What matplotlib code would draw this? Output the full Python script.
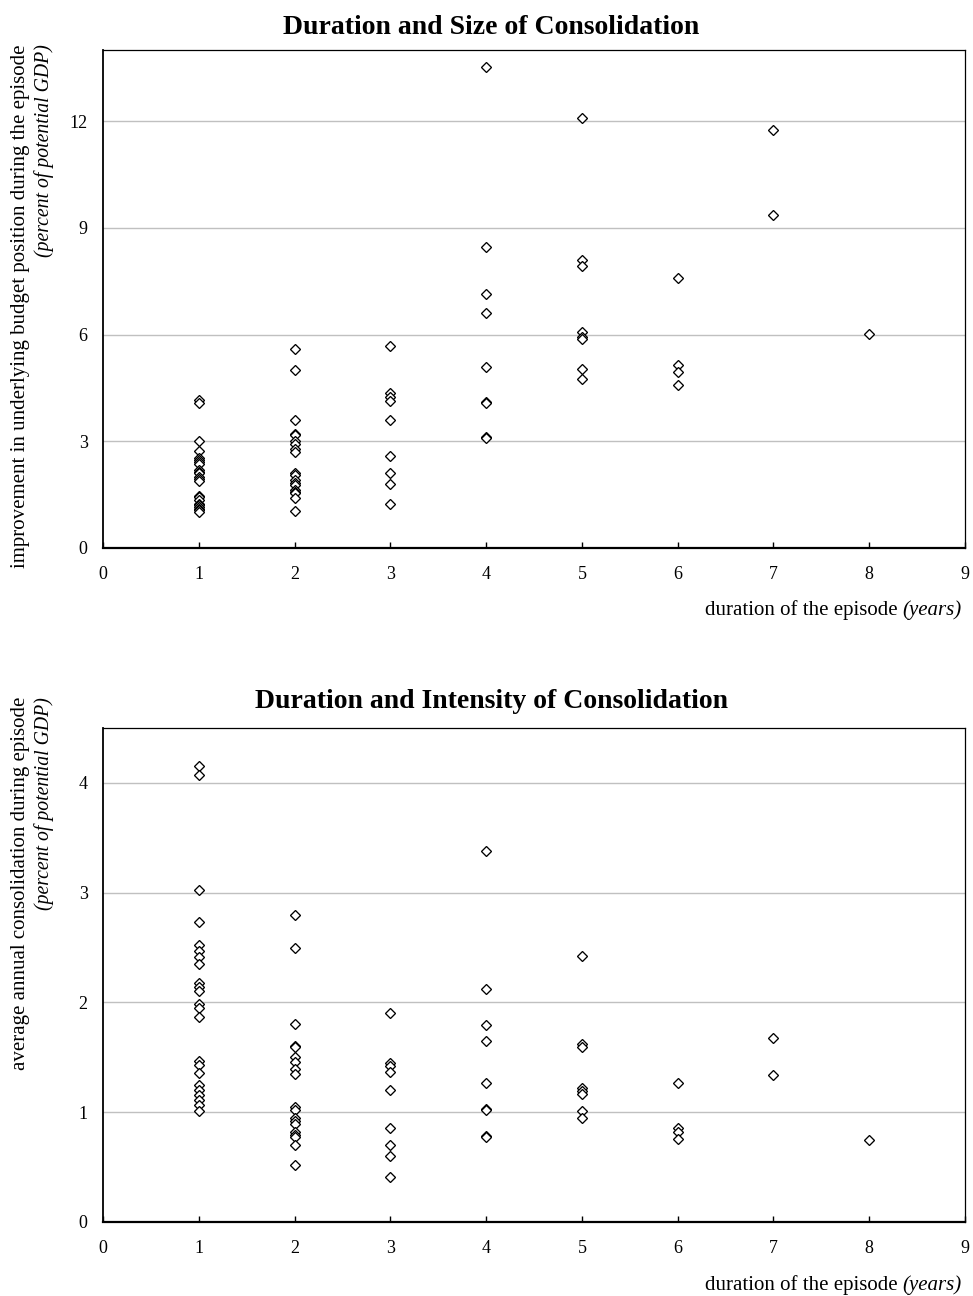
import matplotlib
matplotlib.use("Agg")
import matplotlib.pyplot as plt

plt.rcParams["font.family"] = ["Liberation Serif", "DejaVu Serif"]

# ── data ───────────────────────────────────────────────────────────────────
durations = [1, 2, 3, 4, 5, 6, 7, 8]

# total improvement in budget position, % of potential GDP, per duration
size_by_duration = [
    [4.15, 4.07, 3.02, 2.73, 2.52, 2.47, 2.41, 2.35, 2.18, 2.14, 2.10, 1.99,
     1.95, 1.87, 1.47, 1.43, 1.36, 1.25, 1.20, 1.16, 1.11, 1.07, 1.01],
    [5.60, 5.00, 3.60, 3.20, 3.18, 3.00, 2.92, 2.78, 2.70, 2.10, 2.04, 1.90,
     1.84, 1.78, 1.64, 1.58, 1.54, 1.40, 1.04],
    [5.69, 4.35, 4.25, 4.12, 3.59, 2.59, 2.10, 1.79, 1.24],
    [13.52, 8.47, 7.15, 6.60, 5.09, 4.11, 4.08, 3.13, 3.09],
    [12.09, 8.09, 7.93, 6.08, 5.94, 5.87, 5.04, 4.75],
    [7.60, 5.14, 4.94, 4.58],
    [11.76, 9.36],
    [6.01],
]

# average annual consolidation, % of potential GDP, per duration
intensity_by_duration = [
    [4.15, 4.07, 3.02, 2.73, 2.52, 2.47, 2.41, 2.35, 2.18, 2.14, 2.10, 1.99,
     1.95, 1.87, 1.47, 1.43, 1.36, 1.25, 1.20, 1.16, 1.11, 1.07, 1.01],
    [2.80, 2.50, 1.80, 1.60, 1.59, 1.50, 1.46, 1.39, 1.35, 1.05, 1.02, 0.95,
     0.92, 0.89, 0.82, 0.79, 0.77, 0.70, 0.52],
    [1.90, 1.45, 1.42, 1.37, 1.20, 0.86, 0.70, 0.60, 0.41],
    [3.38, 2.12, 1.79, 1.65, 1.27, 1.03, 1.02, 0.78, 0.77],
    [2.42, 1.62, 1.59, 1.22, 1.19, 1.17, 1.01, 0.95],
    [1.27, 0.86, 0.82, 0.76],
    [1.68, 1.34],
    [0.75],
]

size_ticks = [0, 3, 6, 9, 12]
intensity_ticks = [0, 1, 2, 3, 4]
x_ticks = list(range(0, 10))

W, H = 973, 1296
LABEL_FS = 15


def fx(px):
    return px / W


def fy(px):
    return 1 - px / H


def draw_panel(ax, groups, yticks, ymax, title, ylab, title_y, ylab_top, xlab_y):
    for d, vals in zip(durations, groups):
        ax.plot([d] * len(vals), vals, linestyle="none", marker="D",
                markersize=4.6, markerfacecolor="white", markeredgecolor="black",
                markeredgewidth=0.95, zorder=3)
    ax.set_xlim(0, 9)
    ax.set_ylim(0, ymax)
    ax.set_xticks(x_ticks)
    ax.set_yticks(yticks)
    ax.grid(axis="y", color="#c0c0c0", lw=1.0)
    ax.set_axisbelow(True)
    ax.tick_params(axis="x", direction="in", length=4, width=1, pad=13, labelsize=13)
    ax.tick_params(axis="y", length=0, pad=11, labelsize=13)
    ax.spines["left"].set_linewidth(1.3)
    ax.spines["bottom"].set_linewidth(1.6)
    ax.spines["top"].set_linewidth(0.9)
    ax.spines["right"].set_linewidth(0.9)
    for s in ax.spines.values():
        s.set_color("black")

    fig = ax.figure
    fig.text(fx(491), fy(title_y), title, ha="center", va="center",
             fontsize=20, fontweight="bold")
    fig.text(fx(21), fy(ylab_top), ylab, rotation=90, ha="center", va="top",
             fontsize=LABEL_FS)
    fig.text(fx(44), fy(ylab_top), "(percent of potential GDP)", rotation=90,
             ha="center", va="top", fontsize=LABEL_FS - 0.8, fontstyle="italic")

    # x label: regular text followed by an italic "(years)", right aligned
    r = fig.canvas.get_renderer()
    it = fig.text(fx(962), fy(xlab_y), "(years)", ha="right", va="center",
                  fontsize=LABEL_FS, fontstyle="italic")
    bb = it.get_window_extent(renderer=r)
    fig.text(bb.x0 / W - fx(5), fy(xlab_y), "duration of the episode",
             ha="right", va="center", fontsize=LABEL_FS)


fig = plt.figure(figsize=(W / 100, H / 100), dpi=100)
ax1 = fig.add_axes([fx(103), fy(548), fx(965) - fx(103), fy(50) - fy(548)])
ax2 = fig.add_axes([fx(103), fy(1222), fx(965) - fx(103), fy(728) - fy(1222)])

draw_panel(ax1, size_by_duration, size_ticks, 14,
           "Duration and Size of Consolidation",
           "improvement in underlying budget position during the episode",
           title_y=27, ylab_top=44, xlab_y=610)
draw_panel(ax2, intensity_by_duration, intensity_ticks, 4.5,
           "Duration and Intensity of Consolidation",
           "average annual consolidation during episode",
           title_y=702, ylab_top=697, xlab_y=1285)

fig.savefig("out.png", dpi=100)
